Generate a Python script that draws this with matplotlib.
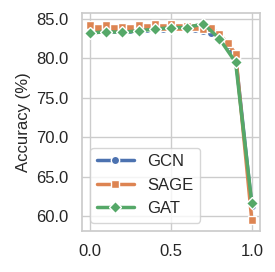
import matplotlib
matplotlib.use("Agg")
import matplotlib.pyplot as plt
import seaborn as sns

# fine grid for GCN / SAGE, coarse for GAT
x_fine = [0.0, 0.05, 0.1, 0.15, 0.2, 0.25, 0.3, 0.35, 0.4, 0.45, 0.5,
          0.55, 0.6, 0.65, 0.7, 0.75, 0.8, 0.85, 0.9, 1.0]
gcn = [83.6, 83.7, 83.6, 83.6, 83.7, 83.6, 83.7, 83.7, 83.8, 83.7, 83.9,
       83.8, 83.8, 83.7, 83.5, 83.2, 82.8, 81.7, 80.2, 61.3]
sage = [84.2, 83.8, 84.2, 83.9, 84.0, 83.9, 84.2, 84.0, 84.3, 84.0, 84.3,
        84.0, 84.1, 84.0, 83.7, 83.8, 83.1, 81.9, 80.6, 59.5]

x_coarse = [0.0, 0.1, 0.2, 0.3, 0.4, 0.5, 0.6, 0.7, 0.8, 0.9, 1.0]
gat = [83.2, 83.4, 83.3, 83.5, 83.7, 83.9, 83.9, 84.4, 82.5, 79.5, 61.6]

y_ticks = [60, 65, 70, 75, 80, 85]
x_ticks = [0.0, 0.5, 1.0]

sns.set_theme(style="whitegrid")
plt.rcParams['font.family'] = ['Liberation Sans', 'DejaVu Sans']

colors = sns.color_palette("deep")

fig = plt.figure(figsize=(2.75, 2.72), dpi=100)
ax = fig.add_axes([0.298, 0.151, 0.647, 0.801])

style = dict(linewidth=2.5, markersize=6, markeredgecolor="white", markeredgewidth=1)
ax.plot(x_fine, gcn, marker="o", color=colors[0], label="GCN", **style)
ax.plot(x_fine, sage, marker="s", color=colors[1], label="SAGE", **style)
ax.plot(x_coarse, gat, marker="D", color=colors[2], label="GAT", **style)

ax.set_ylabel("Accuracy (%)", fontsize=12)
ax.set_yticks(y_ticks)
ax.set_yticklabels([f"{v:.1f}" for v in y_ticks], fontsize=12)
ax.set_xticks(x_ticks)
ax.set_xticklabels([f"{v:.1f}" for v in x_ticks], fontsize=12)
ax.set_ylim(58.1, 85.75)
ax.set_xlim(-0.05, 1.05)

ax.legend(loc="lower left", fontsize=12, handlelength=2.2)

fig.savefig("out.png", dpi=100)
